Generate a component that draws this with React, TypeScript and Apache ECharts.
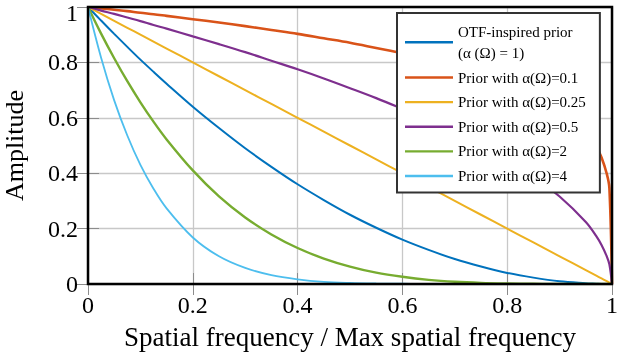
import React, { useEffect, useRef } from 'react';
import * as echarts from 'echarts';

// Normalised spatial frequency (shared x samples)
const freq = [0, 0.025, 0.05, 0.075, 0.1, 0.125, 0.15, 0.2, 0.25, 0.3, 0.35, 0.4, 0.45, 0.5, 0.55, 0.6, 0.65, 0.7, 0.75, 0.8, 0.85, 0.9, 0.95, 0.97, 0.98, 0.99, 0.995, 1];

// Amplitudes
const otfPrior = [1, 0.951, 0.903, 0.856, 0.81, 0.766, 0.723, 0.64, 0.563, 0.49, 0.423, 0.36, 0.303, 0.25, 0.203, 0.16, 0.123, 0.09, 0.063, 0.04, 0.023, 0.01, 0.003, 0.001, 0, 0, 0, 0];
const prior01 = [1, 0.995, 0.99, 0.985, 0.979, 0.974, 0.968, 0.956, 0.944, 0.931, 0.917, 0.903, 0.887, 0.871, 0.852, 0.833, 0.811, 0.786, 0.758, 0.725, 0.684, 0.631, 0.549, 0.496, 0.457, 0.398, 0.347, 0];
const prior025 = [1, 0.975, 0.95, 0.925, 0.9, 0.875, 0.85, 0.8, 0.75, 0.7, 0.65, 0.6, 0.55, 0.5, 0.45, 0.4, 0.35, 0.3, 0.25, 0.2, 0.15, 0.1, 0.05, 0.03, 0.02, 0.01, 0.005, 0];
const prior05 = [1, 0.987, 0.975, 0.962, 0.949, 0.935, 0.922, 0.894, 0.866, 0.837, 0.806, 0.775, 0.742, 0.707, 0.671, 0.632, 0.592, 0.548, 0.5, 0.447, 0.387, 0.316, 0.224, 0.173, 0.141, 0.1, 0.071, 0];
const prior2 = [1, 0.904, 0.815, 0.732, 0.656, 0.586, 0.522, 0.41, 0.316, 0.24, 0.179, 0.13, 0.092, 0.063, 0.041, 0.026, 0.015, 0.008, 0.004, 0.002, 0.001, 0, 0, 0, 0, 0, 0, 0];
const prior4 = [1, 0.817, 0.663, 0.536, 0.43, 0.344, 0.273, 0.168, 0.1, 0.058, 0.032, 0.017, 0.008, 0.004, 0.002, 0.001, 0, 0, 0, 0, 0, 0, 0, 0, 0, 0, 0, 0];

const seriesNames = [
  'OTF-inspired prior\n(α (Ω) = 1)',
  'Prior with α(Ω)=0.1',
  'Prior with α(Ω)=0.25',
  'Prior with α(Ω)=0.5',
  'Prior with α(Ω)=2',
  'Prior with α(Ω)=4',
];
const seriesValues = [otfPrior, prior01, prior025, prior05, prior2, prior4];
const seriesColors = ['#0072BD', '#D95319', '#EDB120', '#7E2F8E', '#77AC30', '#4DBEEE'];
const seriesWidths = [2, 2.6, 2, 2.2, 2.4, 1.8];

const xTickLabels = ['0', '0.2', '0.4', '0.6', '0.8', '1'];
const yTickLabels = ['0', '0.2', '0.4', '0.6', '0.8', '1'];

const FONT = 'Liberation Serif';
const GRID = { left: 88, top: 7, width: 524, height: 277 };

export default function App() {
  const ref = useRef<HTMLDivElement>(null);
  useEffect(() => {
    const chart = echarts.init(ref.current!, null, { renderer: 'svg' });
    const tickStyle = { show: true, inside: true, length: 11, lineStyle: { color: '#8c8c8c', width: 1 } };
    const split = { show: true, lineStyle: { color: '#c8c8c8', width: 1.3 } };
    chart.setOption({
      animation: false,
      grid: { ...GRID, containLabel: false, outerBoundsMode: 'none' },
      xAxis: [
        {
          type: 'value', min: 0, max: 1, interval: 0.2, position: 'bottom',
          axisLine: { show: false }, axisTick: tickStyle, splitLine: split,
          axisLabel: {
            margin: 9, fontSize: 24, fontFamily: FONT, color: '#000',
            formatter: (v: number) => xTickLabels[Math.round(v / 0.2)],
          },
          name: 'Spatial frequency / Max spatial frequency',
          nameLocation: 'middle', nameGap: 39,
          nameTextStyle: { fontSize: 27, fontFamily: FONT, color: '#000' },
        },
        {
          type: 'value', min: 0, max: 1, interval: 0.2, position: 'top',
          axisLine: { show: false }, axisTick: tickStyle, splitLine: { show: false },
          axisLabel: { show: false },
        },
      ],
      yAxis: [
        {
          type: 'value', min: 0, max: 1, interval: 0.2, position: 'left',
          axisLine: { show: false }, axisTick: tickStyle, splitLine: split,
          axisLabel: {
            margin: 10, fontSize: 24, lineHeight: 14, fontFamily: FONT, color: '#000',
            formatter: (v: number) => {
              const i = Math.round(v / 0.2);
              return i === yTickLabels.length - 1 ? `{t|${yTickLabels[i]}}` : yTickLabels[i];
            },
            rich: {
              t: { fontSize: 24, lineHeight: 14, fontFamily: FONT, color: '#000', padding: [12, 0, 0, 0] },
            },
          },
          name: 'Amplitude', nameLocation: 'middle', nameGap: 61,
          nameTextStyle: { fontSize: 26, lineHeight: 26, fontFamily: FONT, color: '#000' },
        },
        {
          type: 'value', min: 0, max: 1, interval: 0.2, position: 'right',
          axisLine: { show: false }, axisTick: tickStyle, splitLine: { show: false },
          axisLabel: { show: false },
        },
      ],
      legend: {
        orient: 'vertical', left: 397, top: 13,
        padding: [8, 14, 6, 8],
        itemGap: 3.3, itemWidth: 48, itemHeight: 2.4,
        icon: 'rect',
        borderColor: '#333', borderWidth: 2, backgroundColor: '#fff',
        textStyle: { fontFamily: FONT, fontSize: 15, color: '#000', lineHeight: 21.3 },
        data: seriesNames,
      },
      series: seriesNames.map((name, i) => ({
        name,
        type: 'line',
        xAxisIndex: 0, yAxisIndex: 0,
        data: freq.map((f, j) => [f, seriesValues[i][j]]),
        symbol: 'none', showSymbol: false,
        smooth: 0.35,
        color: seriesColors[i],
        itemStyle: { color: seriesColors[i] },
        lineStyle: { color: seriesColors[i], width: seriesWidths[i] },
      })),
      graphic: [
        {
          type: 'rect', silent: true, z: 100,
          shape: { x: GRID.left, y: GRID.top, width: GRID.width, height: GRID.height },
          style: { fill: 'none', stroke: '#000', lineWidth: 2.5 },
        },
      ],
    });
    return () => chart.dispose();
  }, []);
  return <div ref={ref} style={{ position: 'fixed', left: 0, top: 0, width: 618, height: 356 }} />;
}
